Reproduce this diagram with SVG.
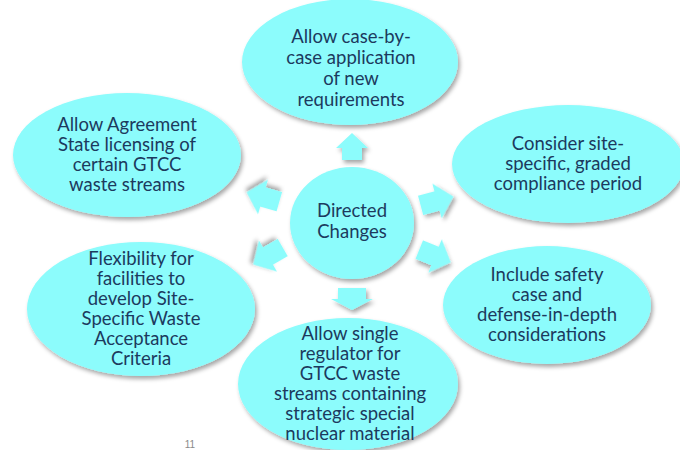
<svg xmlns="http://www.w3.org/2000/svg" width="680" height="450" viewBox="0 0 680 450">
<defs>
<filter id="sh" x="-20%" y="-20%" width="140%" height="140%">
<feDropShadow dx="2" dy="3" stdDeviation="2" flood-color="#000" flood-opacity="0.35"/>
</filter>
<style>
.n{fill:#8cfcfc;filter:url(#sh);}
.a{fill:#8cfcfc;filter:url(#sh);}
.t{font-family:Lato,"Liberation Sans",sans-serif;font-size:18.5px;fill:#1c3a5e;text-anchor:middle;}
.pg{font-family:"Liberation Sans",sans-serif;font-size:10px;fill:#8a8a8a;text-anchor:middle;}
</style>
</defs>
<rect width="680" height="450" fill="#ffffff"/>
<g id="connectors">
<polygon class="a" points="352,133 368,148 362,148 362,160 342,160 342,148 336,148"/>
<polygon class="a" points="338,288 366,288 366,299 373,299 352,310 331,299 338,299"/>
<polygon class="a" points="-17,-10 0,-10 0,-18 17,0 0,18 0,10 -17,10" transform="translate(437,201) rotate(-15)"/>
<polygon class="a" points="-17,-10 0,-10 0,-18 17,0 0,18 0,10 -17,10" transform="translate(435,256) rotate(22)"/>
<polygon class="a" points="-17,-10 0,-10 0,-18 17,0 0,18 0,10 -17,10" transform="translate(263,197) rotate(196)"/>
<polygon class="a" points="-17,-10 0,-10 0,-18 17,0 0,18 0,10 -17,10" transform="translate(268,256) rotate(150)"/>
</g>
<g id="center">
<ellipse class="n" cx="352" cy="223" rx="62" ry="56"/>
<text class="t" x="352" y="217">Directed</text>
<text class="t" x="352" y="238">Changes</text>
</g>
<g id="top">
<ellipse class="n" cx="350" cy="62" rx="108" ry="63"/>
<text class="t" x="351" y="43">Allow case-by-</text>
<text class="t" x="351" y="64">case application</text>
<text class="t" x="351" y="85">of new</text>
<text class="t" x="351" y="106">requirements</text>
</g>
<g id="topright">
<ellipse class="n" cx="568" cy="164" rx="116" ry="59"/>
<text class="t" x="568" y="150">Consider site-</text>
<text class="t" x="568" y="170">specific, graded</text>
<text class="t" x="568" y="190">compliance period</text>
</g>
<g id="bottomright">
<ellipse class="n" cx="547" cy="305" rx="104" ry="59"/>
<text class="t" x="547" y="281">Include safety</text>
<text class="t" x="547" y="301">case and</text>
<text class="t" x="547" y="321">defense-in-depth</text>
<text class="t" x="547" y="341">considerations</text>
</g>
<g id="bottom">
<ellipse class="n" cx="348" cy="384" rx="110" ry="66"/>
<text class="t" x="350" y="340">Allow single</text>
<text class="t" x="350" y="360">regulator for</text>
<text class="t" x="350" y="380">GTCC waste</text>
<text class="t" x="350" y="400">streams containing</text>
<text class="t" x="350" y="420">strategic special</text>
<text class="t" x="350" y="440">nuclear material</text>
</g>
<g id="bottomleft">
<ellipse class="n" cx="141" cy="309" rx="114" ry="67"/>
<text class="t" x="141" y="265">Flexibility for</text>
<text class="t" x="141" y="285">facilities to</text>
<text class="t" x="141" y="305">develop Site-</text>
<text class="t" x="141" y="325">Specific Waste</text>
<text class="t" x="141" y="345">Acceptance</text>
<text class="t" x="141" y="365">Criteria</text>
</g>
<g id="topleft">
<ellipse class="n" cx="127" cy="155" rx="114" ry="62"/>
<text class="t" x="127" y="131">Allow Agreement</text>
<text class="t" x="127" y="151">State licensing of</text>
<text class="t" x="127" y="171">certain GTCC</text>
<text class="t" x="127" y="191">waste streams</text>
</g>
<text class="pg" x="190" y="448">11</text>
</svg>
